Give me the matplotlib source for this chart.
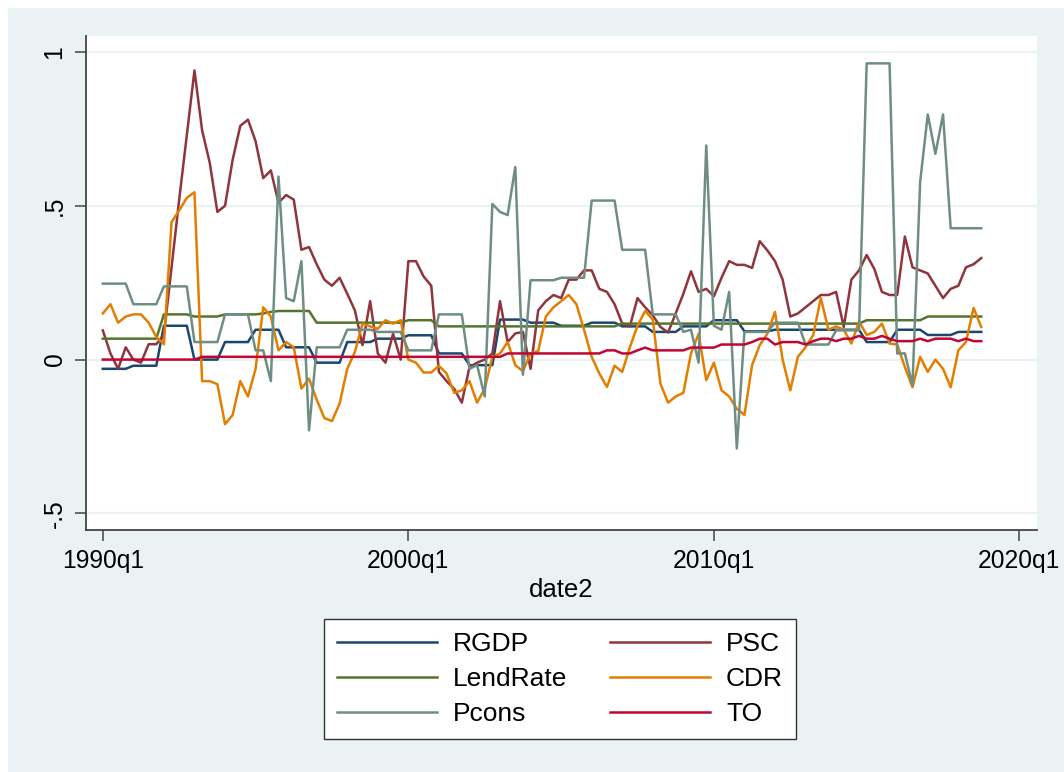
import numpy as np
import matplotlib.pyplot as plt
from matplotlib.patches import Rectangle

plt.rcParams['font.family'] = ['Liberation Sans', 'DejaVu Sans']

# quarterly series, 1990q1 .. 2018q4 (8 values per line = 2 years)
rgdp = [-0.03, -0.03, -0.03, -0.03, -0.02, -0.02, -0.02, -0.02,
        0.11, 0.11, 0.11, 0.11, 0.0, 0.0, 0.0, 0.0,
        0.057, 0.057, 0.057, 0.057, 0.097, 0.097, 0.097, 0.097,
        0.04, 0.04, 0.04, 0.04, -0.01, -0.01, -0.01, -0.01,
        0.057, 0.057, 0.057, 0.057, 0.068, 0.068, 0.068, 0.068,
        0.079, 0.079, 0.079, 0.079, 0.02, 0.02, 0.02, 0.02,
        -0.018, -0.018, -0.018, -0.018, 0.13, 0.13, 0.13, 0.13,
        0.12, 0.12, 0.12, 0.12, 0.11, 0.11, 0.11, 0.11,
        0.12, 0.12, 0.12, 0.12, 0.108, 0.108, 0.108, 0.108,
        0.09, 0.09, 0.09, 0.09, 0.108, 0.108, 0.108, 0.108,
        0.128, 0.128, 0.128, 0.128, 0.092, 0.092, 0.092, 0.092,
        0.097, 0.097, 0.097, 0.097, 0.097, 0.097, 0.097, 0.097,
        0.097, 0.097, 0.097, 0.097, 0.057, 0.057, 0.057, 0.057,
        0.097, 0.097, 0.097, 0.097, 0.08, 0.08, 0.08, 0.08,
        0.09, 0.09, 0.09, 0.09]

psc = [0.095, 0.02, -0.03, 0.04, 0.0, -0.01, 0.05, 0.05,
       0.08, 0.3, 0.52, 0.73, 0.94, 0.745, 0.64, 0.48,
       0.5, 0.65, 0.76, 0.78, 0.71, 0.59, 0.615, 0.51,
       0.535, 0.52, 0.357, 0.366, 0.31, 0.26, 0.24, 0.266,
       0.214, 0.16, 0.047, 0.19, 0.02, -0.01, 0.084, 0.0,
       0.32, 0.32, 0.27, 0.24, -0.04, -0.07, -0.095, -0.14,
       -0.025, -0.01, 0.0, 0.02, 0.19, 0.057, 0.085, 0.09,
       -0.03, 0.16, 0.19, 0.21, 0.2, 0.26, 0.26, 0.29,
       0.29, 0.23, 0.22, 0.18, 0.117, 0.108, 0.2, 0.17,
       0.144, 0.106, 0.088, 0.15, 0.214, 0.287, 0.22, 0.23,
       0.206, 0.266, 0.32, 0.308, 0.308, 0.298, 0.385, 0.355,
       0.32, 0.26, 0.14, 0.15, 0.17, 0.19, 0.21, 0.21,
       0.22, 0.106, 0.26, 0.29, 0.34, 0.295, 0.22, 0.21,
       0.21, 0.4, 0.3, 0.29, 0.28, 0.24, 0.2, 0.23,
       0.24, 0.3, 0.31, 0.33]

lendrate = [0.068, 0.068, 0.068, 0.068, 0.068, 0.068, 0.068, 0.068,
            0.147, 0.147, 0.147, 0.147, 0.14, 0.14, 0.14, 0.14,
            0.147, 0.147, 0.147, 0.147, 0.147, 0.15, 0.155, 0.158,
            0.158, 0.158, 0.158, 0.158, 0.12, 0.12, 0.12, 0.12,
            0.12, 0.12, 0.12, 0.12, 0.12, 0.12, 0.12, 0.12,
            0.128, 0.128, 0.128, 0.128, 0.108, 0.108, 0.108, 0.108,
            0.108, 0.108, 0.108, 0.108, 0.108, 0.108, 0.108, 0.108,
            0.108, 0.108, 0.108, 0.108, 0.108, 0.108, 0.108, 0.108,
            0.108, 0.108, 0.108, 0.108, 0.117, 0.117, 0.117, 0.117,
            0.117, 0.117, 0.117, 0.117, 0.117, 0.117, 0.117, 0.117,
            0.117, 0.117, 0.117, 0.117, 0.117, 0.117, 0.117, 0.117,
            0.117, 0.117, 0.117, 0.117, 0.117, 0.117, 0.117, 0.117,
            0.117, 0.117, 0.117, 0.117, 0.128, 0.128, 0.128, 0.128,
            0.128, 0.128, 0.128, 0.128, 0.14, 0.14, 0.14, 0.14,
            0.14, 0.14, 0.14, 0.14]

cdr = [0.15, 0.18, 0.12, 0.14, 0.147, 0.147, 0.12, 0.074,
       0.05, 0.447, 0.485, 0.526, 0.544, -0.07, -0.07, -0.08,
       -0.21, -0.18, -0.07, -0.12, -0.03, 0.17, 0.14, 0.03,
       0.057, 0.04, -0.094, -0.062, -0.13, -0.19, -0.2, -0.143,
       -0.03, 0.025, 0.117, 0.108, 0.1, 0.128, 0.117, 0.128,
       0.0, -0.01, -0.042, -0.042, -0.02, -0.045, -0.108, -0.1,
       -0.07, -0.14, -0.094, 0.009, 0.02, 0.057, -0.018, -0.038,
       0.02, 0.028, 0.14, 0.17, 0.19, 0.21, 0.18, 0.097,
       0.009, -0.045, -0.089, -0.02, -0.04, 0.04, 0.11, 0.158,
       0.13, -0.078, -0.14, -0.12, -0.108, 0.02, 0.084, -0.067,
       -0.01, -0.1, -0.12, -0.16, -0.18, -0.018, 0.047, 0.084,
       0.155, 0.0, -0.1, 0.009, 0.04, 0.08, 0.2, 0.097,
       0.108, 0.097, 0.052, 0.124, 0.08, 0.09, 0.117, 0.052,
       0.049, -0.024, -0.09, 0.009, -0.04, 0.0, -0.03, -0.09,
       0.03, 0.057, 0.168, 0.106]

pcons = [0.247, 0.247, 0.247, 0.247, 0.18, 0.18, 0.18, 0.18,
         0.238, 0.238, 0.238, 0.238, 0.057, 0.057, 0.057, 0.057,
         0.147, 0.147, 0.147, 0.147, 0.03, 0.03, -0.07, 0.595,
         0.2, 0.19, 0.32, -0.23, 0.04, 0.04, 0.04, 0.04,
         0.097, 0.097, 0.097, 0.097, 0.09, 0.09, 0.09, 0.09,
         0.03, 0.03, 0.03, 0.03, 0.147, 0.147, 0.147, 0.147,
         -0.03, -0.018, -0.12, 0.506, 0.48, 0.47, 0.626, -0.049,
         0.258, 0.258, 0.258, 0.258, 0.266, 0.266, 0.266, 0.266,
         0.517, 0.517, 0.517, 0.517, 0.357, 0.357, 0.357, 0.357,
         0.147, 0.147, 0.147, 0.147, 0.09, 0.097, -0.01, 0.696,
         0.11, 0.097, 0.22, -0.289, 0.09, 0.09, 0.09, 0.09,
         0.12, 0.12, 0.12, 0.12, 0.049, 0.049, 0.049, 0.049,
         0.095, 0.095, 0.095, 0.095, 0.963, 0.963, 0.963, 0.963,
         0.02, 0.02, -0.083, 0.577, 0.797, 0.669, 0.797, 0.427,
         0.427, 0.427, 0.427, 0.427]

to = [0.0, 0.0, 0.0, 0.0, 0.0, 0.0, 0.0, 0.0,
      0.0, 0.0, 0.0, 0.0, 0.0, 0.009, 0.009, 0.009,
      0.009, 0.009, 0.009, 0.009, 0.009, 0.009, 0.009, 0.009,
      0.009, 0.009, 0.009, 0.009, 0.009, 0.009, 0.009, 0.009,
      0.009, 0.009, 0.009, 0.009, 0.009, 0.009, 0.009, 0.009,
      0.009, 0.009, 0.009, 0.009, 0.009, 0.009, 0.009, 0.009,
      0.009, 0.009, 0.009, 0.009, 0.009, 0.02, 0.02, 0.02,
      0.02, 0.02, 0.02, 0.02, 0.02, 0.02, 0.02, 0.02,
      0.02, 0.02, 0.03, 0.03, 0.02, 0.02, 0.03, 0.039,
      0.03, 0.03, 0.03, 0.03, 0.03, 0.039, 0.039, 0.039,
      0.039, 0.049, 0.049, 0.049, 0.049, 0.057, 0.068, 0.068,
      0.049, 0.057, 0.057, 0.057, 0.049, 0.06, 0.068, 0.068,
      0.06, 0.068, 0.068, 0.077, 0.068, 0.068, 0.077, 0.068,
      0.06, 0.06, 0.06, 0.068, 0.06, 0.068, 0.068, 0.068,
      0.06, 0.068, 0.06, 0.06]

names = ['RGDP', 'PSC', 'LendRate', 'CDR', 'Pcons', 'TO']
series = [rgdp, psc, lendrate, cdr, pcons, to]
colors = ['#1a476f', '#90353b', '#55752f', '#e37e00', '#6e8e84', '#c10534']

xtick_pos = [120, 160, 200, 240]          # Stata quarterly date numbers
xtick_lab = ['1990q1', '2000q1', '2010q1', '2020q1']
ytick_pos = [-0.5, 0, 0.5, 1]
ytick_lab = ['-.5', '0', '.5', '1']

bg = '#eaf2f3'
fig = plt.figure(figsize=(10.64, 7.72), dpi=100, facecolor='white')
fig.patches.append(Rectangle((8 / 1064, 0), 1, 1 - 8 / 772, transform=fig.transFigure,
                             facecolor=bg, edgecolor='none', zorder=-10))

ax = fig.add_axes([86 / 1064, 1 - 530 / 772, 951 / 1064, 494 / 772])
ax.set_facecolor('white')

date2 = 120 + np.arange(len(rgdp))
lines = {}
for name, y, c in zip(names, series, colors):
    lines[name], = ax.plot(date2, y, color=c, lw=1.8, label=name)

ax.set_xlim(117.8, 242.3)
ax.set_ylim(-0.554, 1.052)
ax.set_xticks(xtick_pos)
ax.set_xticklabels(xtick_lab)
ax.set_yticks(ytick_pos)
ax.set_yticklabels(ytick_lab, rotation=90, va='center')
ax.grid(axis='y', color=bg, lw=1.6)
ax.set_axisbelow(True)

for s in ['top', 'right']:
    ax.spines[s].set_visible(False)
for s in ['left', 'bottom']:
    ax.spines[s].set_color('#444444')
    ax.spines[s].set_linewidth(1.3)
ax.tick_params(axis='both', length=8, width=1.1, color='#444444', labelsize=17.7, pad=6)
ax.set_xlabel('date2', fontsize=18.5, labelpad=3)

order = ['RGDP', 'LendRate', 'Pcons', 'PSC', 'CDR', 'TO']
leg = fig.legend([lines[n] for n in order], order, ncol=2, loc='center',
                 bbox_to_anchor=(560 / 1064, 1 - 679 / 772), fontsize=19,
                 frameon=True, fancybox=False, edgecolor='#333333',
                 facecolor='white', framealpha=1.0,
                 handlelength=3.8, handletextpad=0.6, columnspacing=1.6,
                 labelspacing=0.42, borderpad=0.5)
leg.get_frame().set_linewidth(1.0)

fig.savefig('out.png', dpi=100, facecolor=fig.get_facecolor())
